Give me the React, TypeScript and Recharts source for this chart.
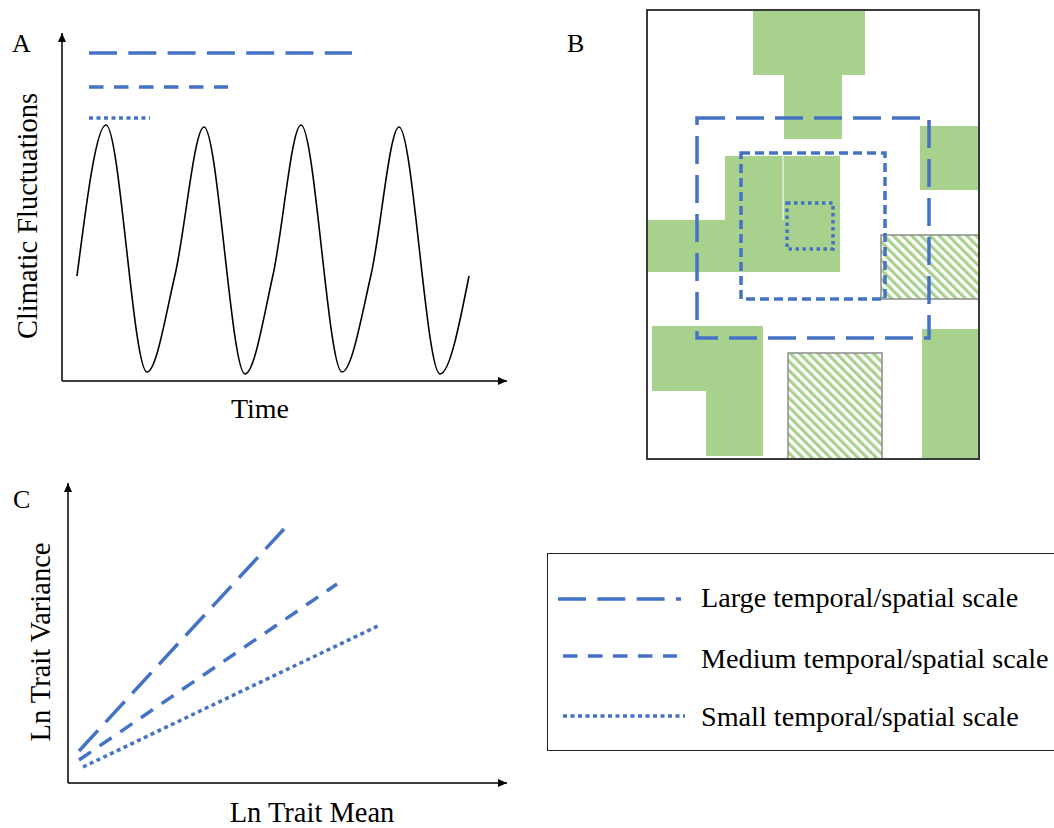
import { LineChart, Line, XAxis, YAxis, ReferenceLine, ReferenceArea, ComposedChart, Legend } from 'recharts'

// Office-style palette used in the figure
const BLUE = '#4472C4'
const GREEN = '#A9D18E'
const HATCH_EDGE = '#8c8c8c'
const FRAME = '#3a3a3a'
const FONT = "'Liberation Serif', 'Times New Roman', serif"

// Panel A: climate through time (turning points)
const TIME = [15, 44, 85, 113, 142, 183, 211, 239, 280, 309, 337, 378, 407]
const CLIMATE = [105, 256, 9, 106, 254, 7, 106, 256, 9, 106, 254, 7, 105]

// the three observation scales
const SCALES = ['Large temporal/spatial scale', 'Medium temporal/spatial scale', 'Small temporal/spatial scale']
const DASHES = ['28 11.3', '14.5 10.5', '4 3.5']

// Panel A: scale bars above the wave (time units / climate level)
const BAR_FROM = [27, 27, 27]
const BAR_TO = [290, 166, 88]
const BAR_LEVEL = [328, 294, 263]

// Panel C: ln trait mean vs ln trait variance, end points of each line
const MEAN_FROM = [11, 11, 15]
const MEAN_TO = [216, 269, 312]
const VAR_FROM = [32, 23, 16]
const VAR_TO = [254, 199, 158]

// Panel B: landscape map, [x1, x2, y1, y2] in map units (y down)
const GREEN_PATCHES: number[][] = [
	[106, 218, 0, 65],
	[137, 195, 65, 129],
	[273, 331, 116, 180],
	[78, 193, 146, 262],
	[1, 78, 210, 262],
	[5, 116, 316, 381],
	[59, 116, 381, 446],
	[275, 332, 319, 449],
]
const HATCHED_PATCHES: number[][] = [
	[234, 332, 225, 289],
	[141, 235, 343, 449],
]
const WINDOWS: number[][] = [
	[50, 282, 108, 328],
	[94, 238, 143, 289],
	[140, 186, 193, 239],
]
const WINDOW_DASHES = ['28 11', '9 5', '3.5 3.5']
const MAP_W = 332
const MAP_H = 449
const MAP_CORNERS = [
	{ x: 0, y: 0 },
	{ x: MAP_W, y: MAP_H },
]

const sineData = TIME.map((t, i) => ({ time: t, climate: CLIMATE[i] }))

const axisStyle = { stroke: '#000', strokeWidth: 1.5 }

function ArrowDefs({ id }: { id: string }) {
	return (
		<defs>
			<marker
				id={id}
				viewBox="0 0 9 8"
				refX={9}
				refY={4}
				markerWidth={9}
				markerHeight={8}
				markerUnits="userSpaceOnUse"
				orient="auto-start-reverse"
			>
				<path d="M0,0 L9,4 L0,8 z" fill="#000" />
			</marker>
		</defs>
	)
}

function PanelA() {
	return (
		<div style={{ position: 'absolute', left: 51, top: 23 }}>
			<LineChart width={466} height={369} data={sineData} margin={{ top: 10, right: 10, bottom: 10, left: 10 }}>
				<ArrowDefs id="arrowA" />
				<XAxis
					type="number"
					dataKey="time"
					domain={[0, 445]}
					allowDataOverflow
					height={1}
					tick={false}
					tickLine={false}
					axisLine={{ ...axisStyle, markerEnd: 'url(#arrowA)' }}
				/>
				<YAxis
					type="number"
					domain={[0, 348]}
					allowDataOverflow
					width={1}
					tick={false}
					tickLine={false}
					axisLine={{ ...axisStyle, markerStart: 'url(#arrowA)' }}
				/>
				{SCALES.map((s, i) => (
					<ReferenceLine
						key={s}
						segment={[
							{ x: BAR_FROM[i], y: BAR_LEVEL[i] },
							{ x: BAR_TO[i], y: BAR_LEVEL[i] },
						]}
						stroke={BLUE}
						strokeWidth={3.5}
						strokeDasharray={DASHES[i]}
					/>
				))}
				<Line
					type="monotone"
					dataKey="climate"
					stroke="#000"
					strokeWidth={1.6}
					dot={false}
					activeDot={false}
					isAnimationActive={false}
				/>
			</LineChart>
		</div>
	)
}

function PanelB() {
	return (
		<div style={{ position: 'absolute', left: 642, top: 5 }}>
			<ComposedChart width={342} height={459} data={MAP_CORNERS} margin={{ top: 5, right: 5, bottom: 5, left: 5 }}>
				<defs>
					<pattern id="hatch" width={6.5} height={6.5} patternUnits="userSpaceOnUse" patternTransform="rotate(-45)">
						<rect width={6.5} height={6.5} fill="#fff" />
						<rect width={3.2} height={6.5} fill={GREEN} />
					</pattern>
				</defs>
				<XAxis type="number" dataKey="x" hide domain={[0, MAP_W]} allowDataOverflow />
				<YAxis type="number" dataKey="y" hide domain={[0, MAP_H]} allowDataOverflow reversed />
				<Line dataKey="y" stroke="none" dot={false} activeDot={false} isAnimationActive={false} legendType="none" />
				{GREEN_PATCHES.map(([x1, x2, y1, y2], i) => (
					<ReferenceArea key={'g' + i} x1={x1} x2={x2} y1={y1} y2={y2} fill={GREEN} fillOpacity={1} stroke="none" />
				))}
				{HATCHED_PATCHES.map(([x1, x2, y1, y2], i) => (
					<ReferenceArea
						key={'h' + i}
						x1={x1}
						x2={x2}
						y1={y1}
						y2={y2}
						fill="url(#hatch)"
						fillOpacity={1}
						stroke={HATCH_EDGE}
						strokeWidth={1.5}
					/>
				))}
				<ReferenceLine segment={[{ x: 136, y: 146 }, { x: 136, y: 210 }]} stroke="#fff" strokeWidth={1} />
				{WINDOWS.map(([x1, x2, y1, y2], i) => (
					<ReferenceArea
						key={'w' + i}
						x1={x1}
						x2={x2}
						y1={y1}
						y2={y2}
						fill="none"
						stroke={BLUE}
						strokeWidth={3.5}
						strokeDasharray={WINDOW_DASHES[i]}
					/>
				))}
				<ReferenceArea x1={0} x2={MAP_W} y1={0} y2={MAP_H} fill="none" stroke={FRAME} strokeWidth={2} />
			</ComposedChart>
		</div>
	)
}

function ScaleLegend() {
	const rowY = [45, 102, 162]
	const lineFrom = [10, 15, 15]
	const lineTo = [133, 129, 137]
	const textY = [53, 114, 172]
	return (
		<div
			style={{
				width: 520,
				height: 198,
				boxSizing: 'border-box',
				border: '1.5px solid #222',
				background: '#fff',
			}}
		>
			<svg width={520} height={196} style={{ display: 'block' }}>
				{SCALES.map((s, i) => (
					<g key={s}>
						<line
							x1={lineFrom[i]}
							x2={lineTo[i]}
							y1={rowY[i]}
							y2={rowY[i]}
							stroke={BLUE}
							strokeWidth={3.5}
							strokeDasharray={DASHES[i]}
						/>
						<text x={153} y={textY[i]} fontFamily={FONT} fontSize={28.2} fill="#000">
							{s}
						</text>
					</g>
				))}
			</svg>
		</div>
	)
}

function PanelC() {
	return (
		<div style={{ position: 'absolute', left: 57, top: 473 }}>
			<LineChart width={460} height={321} margin={{ top: 10, right: 10, bottom: 10, left: 10 }}>
				<ArrowDefs id="arrowC" />
				<XAxis
					type="number"
					dataKey="mean"
					domain={[0, 439]}
					allowDataOverflow
					height={1}
					tick={false}
					tickLine={false}
					axisLine={{ ...axisStyle, markerEnd: 'url(#arrowC)' }}
				/>
				<YAxis
					type="number"
					domain={[0, 300]}
					allowDataOverflow
					width={1}
					tick={false}
					tickLine={false}
					axisLine={{ ...axisStyle, markerStart: 'url(#arrowC)' }}
				/>
				{SCALES.map((s, i) => (
					<Line
						key={s}
						name={s}
						type="linear"
						data={[
							{ mean: MEAN_FROM[i], variance: VAR_FROM[i] },
							{ mean: MEAN_TO[i], variance: VAR_TO[i] },
						]}
						dataKey="variance"
						stroke={BLUE}
						strokeWidth={3.5}
						strokeDasharray={DASHES[i]}
						dot={false}
						activeDot={false}
						isAnimationActive={false}
					/>
				))}
				<Legend
					layout="vertical"
					align="center"
					verticalAlign="middle"
					wrapperStyle={{ left: 490, top: 80, width: 520, height: 198 }}
					content={() => <ScaleLegend />}
				/>
			</LineChart>
		</div>
	)
}

function Labels() {
	const common = { fontFamily: FONT, fill: '#000' }
	return (
		<svg width={1054} height={828} style={{ position: 'absolute', left: 0, top: 0, pointerEvents: 'none' }}>
			<text x={12} y={52} fontSize={26} {...common}>A</text>
			<text x={567} y={52} fontSize={26} {...common}>B</text>
			<text x={13} y={508} fontSize={26} {...common}>C</text>
			<text transform="translate(37,216) rotate(-90)" textAnchor="middle" fontSize={28.5} {...common}>
				Climatic Fluctuations
			</text>
			<text x={260} y={418} textAnchor="middle" fontSize={28} {...common}>Time</text>
			<text transform="translate(50,642) rotate(-90)" textAnchor="middle" fontSize={28.5} {...common}>
				Ln Trait Variance
			</text>
			<text x={312} y={822} textAnchor="middle" fontSize={28.5} {...common}>Ln Trait Mean</text>
		</svg>
	)
}

export default function App() {
	return (
		<div
			style={{
				position: 'absolute',
				left: 0,
				top: 0,
				width: 1054,
				height: 828,
				overflow: 'hidden',
				background: '#fff',
			}}
		>
			<PanelA />
			<PanelB />
			<PanelC />
			<Labels />
		</div>
	)
}
